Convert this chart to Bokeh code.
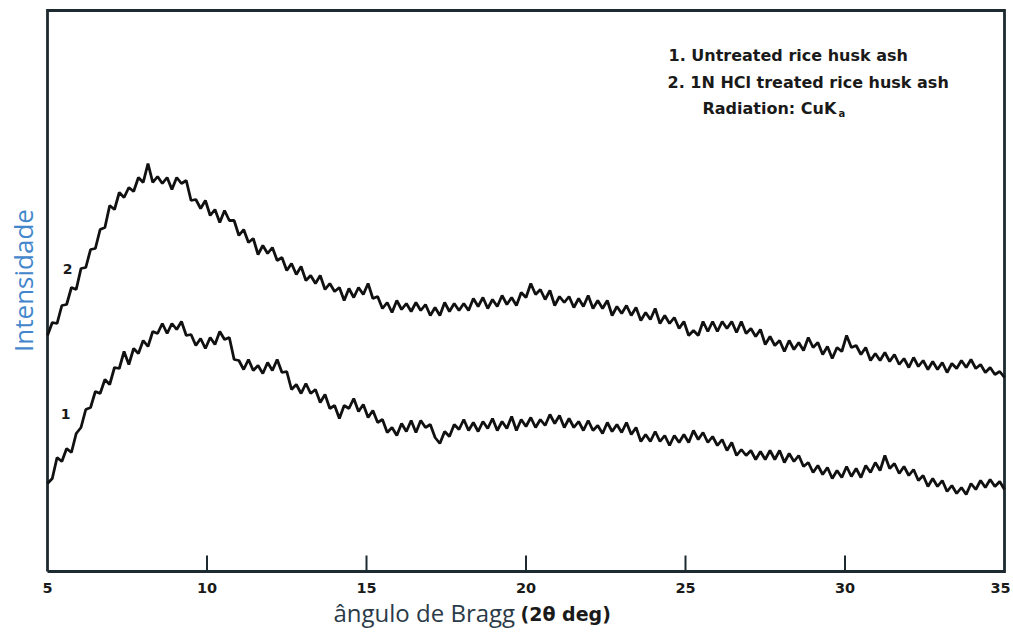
import numpy as np
from bokeh.plotting import figure
from bokeh.models import Range1d, ColumnDataSource
from bokeh.core.properties import value
from bokeh.embed import file_html
from bokeh.resources import INLINE

# 2-theta scan grid (deg): start 5.0, step 0.15, 201 steps
scan_start = 5.0
scan_step = 0.15
two_theta = np.round(scan_start + scan_step * np.arange(201), 2)

# Curve 2: 1N HCl treated rice husk ash (arbitrary intensity)
treated = [
    236, 249, 248, 266, 267, 284, 282, 303, 304, 322,
    323, 342, 344, 366, 362, 379, 374, 384, 380, 394,
    389, 408, 389, 395, 388, 394, 382, 394, 388, 391,
    371, 372, 363, 371, 356, 362, 349, 361, 351, 351,
    336, 342, 329, 333, 317, 326, 318, 324, 311, 314,
    301, 308, 297, 305, 291, 296, 288, 296, 282, 288,
    280, 284, 271, 283, 274, 284, 277, 288, 273, 275,
    263, 269, 259, 271, 262, 268, 260, 269, 261, 267,
    256, 264, 256, 269, 260, 268, 261, 268, 261, 273,
    265, 274, 263, 272, 265, 276, 267, 274, 266, 279,
    274, 288, 277, 282, 272, 281, 266, 275, 269, 275,
    264, 273, 265, 276, 263, 271, 263, 271, 256, 265,
    258, 266, 256, 264, 251, 259, 252, 263, 248, 256,
    248, 254, 243, 250, 236, 241, 236, 250, 240, 250,
    240, 250, 243, 250, 239, 250, 238, 243, 235, 242,
    227, 235, 226, 231, 220, 231, 222, 229, 221, 234,
    224, 229, 217, 225, 213, 224, 220, 236, 224, 226,
    217, 224, 211, 218, 211, 219, 210, 217, 207, 213,
    204, 214, 205, 211, 202, 210, 202, 209, 199, 208,
    203, 211, 204, 212, 203, 207, 199, 204, 197, 200,
    194,
]

# Curve 1: untreated rice husk ash
untreated = [
    88, 93, 114, 110, 123, 119, 138, 144, 162, 164,
    180, 178, 192, 187, 204, 203, 220, 207, 223, 218,
    231, 225, 240, 238, 248, 238, 248, 242, 250, 236,
    237, 226, 233, 223, 234, 227, 240, 232, 234, 212,
    211, 202, 212, 201, 206, 198, 209, 201, 212, 199,
    200, 182, 187, 178, 188, 178, 182, 169, 177, 163,
    166, 153, 166, 163, 173, 160, 167, 154, 161, 149,
    152, 139, 144, 136, 148, 140, 151, 139, 151, 144,
    147, 134, 128, 140, 135, 147, 142, 152, 141, 149,
    140, 150, 143, 153, 141, 150, 143, 155, 141, 152,
    145, 154, 144, 152, 146, 157, 148, 156, 144, 153,
    144, 150, 141, 151, 141, 146, 138, 149, 140, 147,
    139, 149, 137, 144, 130, 137, 130, 140, 130, 136,
    126, 136, 129, 137, 129, 141, 132, 139, 129, 135,
    126, 132, 121, 129, 116, 122, 116, 121, 112, 120,
    112, 121, 112, 121, 109, 118, 110, 116, 105, 109,
    99, 106, 97, 104, 93, 101, 94, 105, 95, 103,
    94, 106, 99, 109, 101, 116, 103, 108, 98, 105,
    96, 102, 91, 96, 85, 93, 85, 91, 80, 86,
    78, 84, 77, 88, 82, 91, 84, 92, 85, 90,
    82,
]

x_ticks = [5, 10, 15, 20, 25, 30, 35]
x_tick_labels = ["5", "10", "15", "20", "25", "30", "35"]
y_top = 561
legend_lines = ["1. Untreated rice husk ash", "2. 1N HCl treated rice husk ash"]
radiation_text = "Radiation: CuK"
x_label_main = "ângulo de Bragg"
x_label_unit = "(2θ deg)"
y_label = "Intensidade"

# pixel geometry of the reference
PX_PER_DEG = 31.9
LEFT_PX, RIGHT_PX, TOP_PX, BOTTOM_PX = 47, 9, 10, 64

p = figure(width=1013, height=635, output_backend="svg", toolbar_location=None,
           x_range=Range1d(x_ticks[0] - LEFT_PX / PX_PER_DEG, x_ticks[-1] + RIGHT_PX / PX_PER_DEG),
           y_range=Range1d(-BOTTOM_PX, y_top + TOP_PX))
p.min_border = 0
p.xaxis.visible = False
p.yaxis.visible = False
p.grid.visible = False
p.outline_line_color = None
p.background_fill_color = "white"
p.border_fill_color = "white"

def deg(px):
    return x_ticks[0] + (px - LEFT_PX) / PX_PER_DEG

def inten(py):
    return (y_top + TOP_PX) - py

frame_col = "#1d2a30"
# plot frame
p.line([x_ticks[0], x_ticks[0], x_ticks[-1], x_ticks[-1], x_ticks[0]],
       [0, y_top, y_top, 0, 0], line_color=frame_col, line_width=2.8, line_join="miter")
# inner ticks
inner = x_ticks[1:-1]
p.segment(x0=inner, y0=[0] * len(inner), x1=inner, y1=[16] * len(inner),
          line_color=frame_col, line_width=2)
# tick labels
tick_src = ColumnDataSource(dict(x=x_ticks, y=[-16] * len(x_ticks), text=x_tick_labels,
                                 dx=[0, 0, 0, 0, 0, 0, -4]))
p.text(x="x", y="y", text="text", x_offset="dx", source=tick_src, text_align="center",
       text_baseline="middle", text_font=value("DejaVu Sans"), text_font_style="bold",
       text_font_size="14.5px", text_color="#1a1a1a")

# data curves
p.line(two_theta, treated, line_color="#111111", line_width=2.8)
p.line(two_theta, untreated, line_color="#111111", line_width=2.8)

# curve numbers
p.text(x=[deg(67), deg(65)], y=[inten(268), inten(413)], text=["2", "1"], text_align="center",
       text_baseline="middle", text_font=value("DejaVu Sans"), text_font_style="bold",
       text_font_size="14px", text_color="#1a1a1a")

# legend text block
p.text(x=[deg(668), deg(667), deg(702)], y=[inten(55), inten(82), inten(108)],
       text=[legend_lines[0], legend_lines[1], radiation_text], text_align="left",
       text_baseline="middle", text_font=value("DejaVu Sans"), text_font_style="bold",
       text_font_size="16px", text_color="#1a1a1a")
p.text(x=[deg(838)], y=[inten(113)], text=["a"], text_align="left", text_baseline="middle",
       text_font=value("DejaVu Sans"), text_font_style="bold", text_font_size="10px",
       text_color="#1a1a1a")

# axis titles
p.text(x=[deg(333)], y=[inten(612)], text=[x_label_main], text_align="left",
       text_baseline="middle", text_font=value("Open Sans"), text_font_size="24px",
       text_color="#2b3a48")
p.text(x=[deg(520)], y=[inten(613)], text=[x_label_unit], text_align="left",
       text_baseline="middle", text_font=value("DejaVu Sans"), text_font_style="bold",
       text_font_size="19px", text_color="#1a1a1a")
p.text(x=[deg(22)], y=[inten(280)], text=[y_label], text_align="center", text_baseline="middle",
       angle=np.pi / 2, text_font=value("Open Sans"), text_font_size="26px", text_color="#4286cc")

open("out.html", "w").write(file_html(p, INLINE))
